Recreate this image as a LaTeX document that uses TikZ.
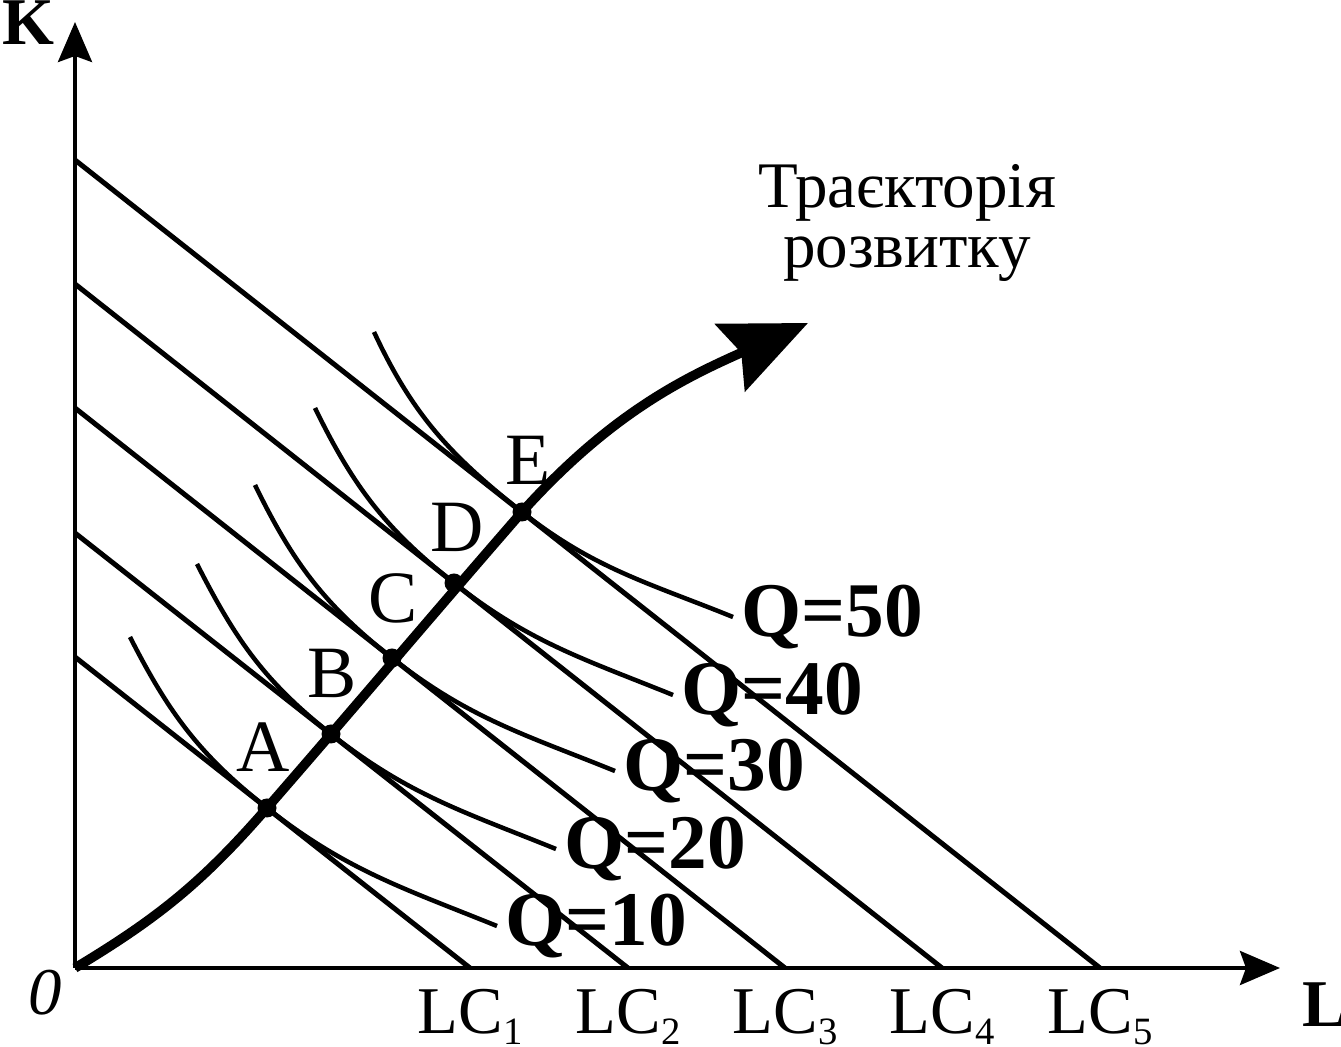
\documentclass[tikz,border=0pt]{standalone}
\usepackage{fontspec}
\setmainfont{Liberation Serif}
\usetikzlibrary{arrows.meta}

\newcommand{\lcsub}[1]{LC\raisebox{-3pt}{\fontsize{11pt}{11pt}\selectfont #1}}

\begin{document}
\begin{tikzpicture}[x=0.1mm, y=0.1mm,
		every node/.style={font=\fontsize{19pt}{17pt}\selectfont, inner sep=0pt},
		axis/.style={line width=0.4mm, -{Stealth[length=4mm, width=3.4mm, inset=0.6mm]}},
		isocost/.style={line width=0.5mm},
		isoquant/.style={line width=0.45mm},
		devpath/.style={line width=0.95mm, -{Stealth[length=8.5mm, width=7.3mm, inset=1.2mm]}},
		ptlabel/.style={font=\fontsize{21pt}{21pt}\selectfont},
		qlabel/.style={font=\fontsize{22pt}{22pt}\selectfont\bfseries, anchor=west, inner sep=0.6mm}]
	\useasboundingbox (-75,-79) rectangle (1266,968);

	% Axes
	\coordinate (O) at (0,0);
	\draw[axis] (O) -- (1205,0) coordinate (Lend);
	\draw[axis] (O) -- (0,946) coordinate (Kend);
	\node[font=\fontsize{19pt}{19pt}\selectfont\bfseries, anchor=base] (K) at (-47,923) {K};
	\node[font=\fontsize{19pt}{19pt}\selectfont\bfseries, anchor=base] (L) at (1250,-59) {L};
	\node[font=\fontsize{19pt}{19pt}\selectfont\itshape] (zero) at (-30,-25) {0};

	% Isocost lines
	\draw[isocost] (0,311) -- (395,0) node[below=1.9mm] (lc1) {\lcsub{1}};
	\draw[isocost] (0,435) -- (553,0) node[below=1.9mm] (lc2) {\lcsub{2}};
	\draw[isocost] (0,560) -- (710,0) node[below=1.9mm] (lc3) {\lcsub{3}};
	\draw[isocost] (0,684) -- (867,0) node[below=1.9mm] (lc4) {\lcsub{4}};
	\draw[isocost] (0,808) -- (1025,0) node[below=1.9mm] (lc5) {\lcsub{5}};

	% Tangency points
	\coordinate (A) at (192,160);
	\coordinate (B) at (256,234);
	\coordinate (C) at (317,310);
	\coordinate (D) at (379,385);
	\coordinate (E) at (447,456);

	% Isoquants
	\draw[isoquant] (55,331) to[out=-63,in=141.8] (A) to[out=-38.2,in=158] (422,42) node[qlabel] (q10) {Q=10};
	\draw[isoquant] (122,404) to[out=-63,in=141.8] (B) to[out=-38.2,in=158] (481,119) node[qlabel] (q20) {Q=20};
	\draw[isoquant] (180,483) to[out=-64,in=141.8] (C) to[out=-38.2,in=158] (540,197) node[qlabel] (q30) {Q=30};
	\draw[isoquant] (240,560) to[out=-64,in=141.8] (D) to[out=-38.2,in=158] (598,273) node[qlabel] (q40) {Q=40};
	\draw[isoquant] (299,636) to[out=-65,in=141.8] (E) to[out=-38.2,in=158] (658,351) node[qlabel] (q50) {Q=50};

	% Expansion path
	\draw[devpath] (O) to[out=31,in=229] (A) to[out=49,in=229] (E) to[out=48,in=204] (733,645);
	\foreach \p in {A,B,C,D,E}
		\fill (\p) circle (9.5);

	% Point labels
	\node[ptlabel] (labA) at (188,221) {A};
	\node[ptlabel] (labB) at (257,295) {B};
	\node[ptlabel] (labC) at (318,370) {C};
	\node[ptlabel] (labD) at (382,441) {D};
	\node[ptlabel] (labE) at (453,508) {E};

	\node[align=center, font=\fontsize{18.5pt}{17pt}\selectfont] (title) at (832,745) {Траєкторія\\розвитку};
\end{tikzpicture}
\end{document}
